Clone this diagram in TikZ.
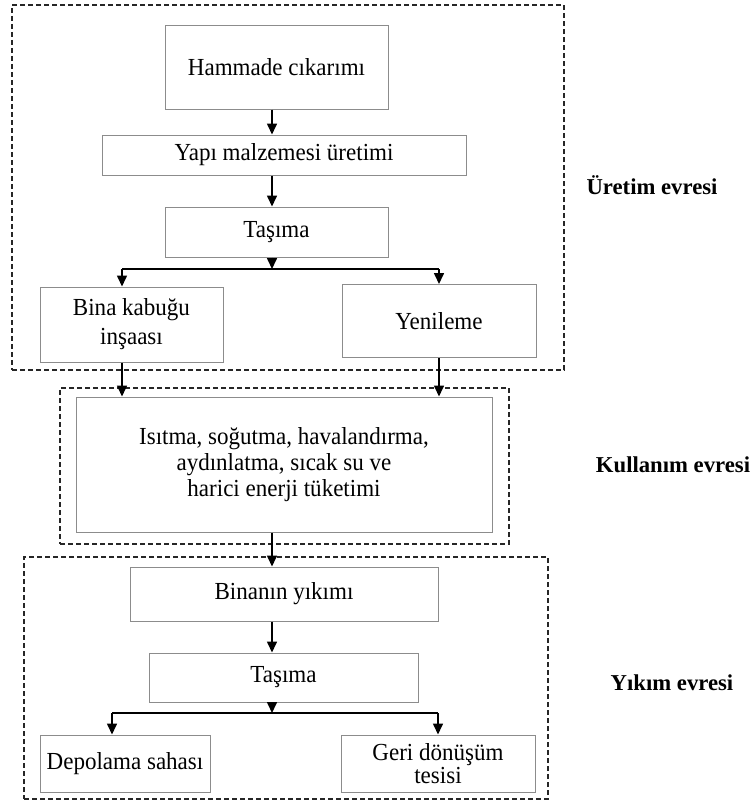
\documentclass[tikz,border=0pt]{standalone}
\usepackage{fontspec}
\setmainfont{Liberation Serif}
\newfontfamily\boxfont[FakeStretch=0.94]{Liberation Serif}
\usetikzlibrary{arrows.meta}
\begin{document}
\begin{tikzpicture}[x=1pt,y=-1pt,
  box/.style={draw=black!45, line width=1pt, fill=white, align=center, inner sep=0pt,
    font=\boxfont\fontsize{24.5}{27}\selectfont},
  phase/.style={draw=black!85, line width=1.3pt, dash pattern=on 5pt off 3pt, inner sep=0pt},
  phaselabel/.style={font=\fontsize{22.7}{26}\selectfont\bfseries},
  link/.style={line width=1.6pt, black},
  arr/.style={link, -{Triangle[length=11pt,width=10pt]}}]
\useasboundingbox (0,0) rectangle (755,803);

% phase frames
\node[phase, minimum width=552pt, minimum height=365pt] (furetim) at (288,187.5) {};
\node[phase, minimum width=449pt, minimum height=156pt] (fkullanim) at (284.5,466) {};
\node[phase, minimum width=524pt, minimum height=242pt] (fyikim) at (286,678) {};

% phase labels
\node[phaselabel] (luretim) at (652,185) {Üretim evresi};
\node[phaselabel] (lkullanim) at (673,465) {Kullanım evresi};
\node[phaselabel] (lyikim) at (672,683) {Yıkım evresi};

% production steps
\node[box, minimum width=223pt, minimum height=84pt] (ham) at (276.5,67) {Hammade cıkarımı};
\node[box, minimum width=364pt, minimum height=40pt] (yapi) at (284,155) {Yapı malzemesi üretimi};
\node[box, minimum width=223pt, minimum height=50pt] (tas1) at (276.5,232) {Taşıma};
\node[box, minimum width=183pt, minimum height=75pt,
  font=\boxfont\fontsize{24.5}{29}\selectfont] (bina) at (131.5,324.5) {Bina kabuğu\\inşaası};
\node[box, minimum width=194pt, minimum height=73pt] (yen) at (439,321) {Yenileme};

% use phase
\node[box, minimum width=416pt, minimum height=135pt,
  font=\boxfont\fontsize{24.5}{26}\selectfont] (use) at (284,464.5)
  {Isıtma, soğutma, havalandırma,\\aydınlatma, sıcak su ve\\harici enerji tüketimi};

% demolition steps
\node[box, minimum width=308pt, minimum height=54pt] (yik) at (284,594) {Binanın yıkımı};
\node[box, minimum width=269pt, minimum height=49pt] (tas2) at (283.5,677.5) {Taşıma};
\node[box, minimum width=170pt, minimum height=57pt] (depo) at (125,763.5) {Depolama sahası};
\node[box, minimum width=194pt, minimum height=57pt,
  font=\boxfont\fontsize{24.5}{23}\selectfont] (geri) at (438,763.5) {Geri dönüşüm\\tesisi};

% connector guides
\coordinate (spine) at (272,0);
\coordinate (brUL) at (122,269);
\coordinate (brUR) at (439,269);
\coordinate (brLL) at (112,713);
\coordinate (brLR) at (438,713);

% connectors, upper part
\draw[arr] (ham.south -| spine) -- (yapi.north -| spine);
\draw[arr] (yapi.south -| spine) -- (tas1.north -| spine);
\draw[link] (brUL) -- (brUR);
\draw[arr] (tas1.south -| spine) -- (brUL -| spine);
\draw[arr] (brUL) -- (bina.north -| brUL);
\draw[arr] (brUR) -- (yen.north -| brUR);
\draw[arr] (bina.south -| brUL) -- (use.north -| brUL);
\draw[arr] (yen.south -| brUR) -- (use.north -| brUR);

% connectors, lower part
\draw[arr] (use.south -| spine) -- (yik.north -| spine);
\draw[arr] (yik.south -| spine) -- (tas2.north -| spine);
\draw[link] (brLL) -- (brLR);
\draw[arr] (tas2.south -| spine) -- (brLL -| spine);
\draw[arr] (brLL) -- (depo.north -| brLL);
\draw[arr] (brLR) -- (geri.north -| brLR);
\end{tikzpicture}
\end{document}
